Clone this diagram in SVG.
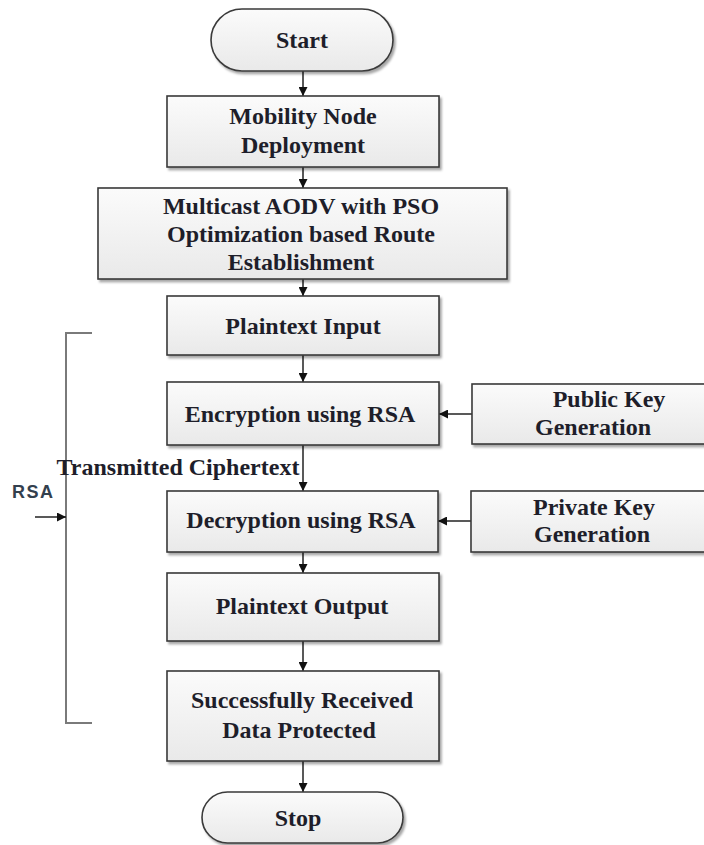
<svg xmlns="http://www.w3.org/2000/svg" width="704" height="845" viewBox="0 0 704 845">
  <defs>
    <linearGradient id="boxFill" x1="0" y1="0" x2="0" y2="1">
      <stop offset="0" stop-color="#fbfbfb"/>
      <stop offset="1" stop-color="#e9e9e9"/>
    </linearGradient>
    <filter id="shadow" x="-5%" y="-10%" width="115%" height="130%">
      <feDropShadow dx="2" dy="2.5" stdDeviation="1.2" flood-color="#000" flood-opacity="0.35"/>
    </filter>
    <marker id="arrow" viewBox="0 0 10 10" refX="10" refY="5" markerWidth="9" markerHeight="9" markerUnits="userSpaceOnUse" orient="auto">
      <path d="M0,0 L10,5 L0,10 Z" fill="#111"/>
    </marker>
  </defs>
  <style>
    .box { fill: url(#boxFill); stroke: #3a3a3a; stroke-width: 1.6; filter: url(#shadow); }
    .lbl { font-family: "Liberation Serif", "Times New Roman", serif; font-weight: bold; font-size: 24px; fill: #1e1e2a; text-anchor: middle; }
    .flow { stroke: #222; stroke-width: 1.5; fill: none; marker-end: url(#arrow); }
    .brace { stroke: #7a7a7a; stroke-width: 2; fill: none; }
    .side { font-family: "Liberation Sans", Arial, sans-serif; font-weight: bold; font-size: 18px; fill: #33404e; letter-spacing: 1.5px; }
  </style>

  <rect width="704" height="845" fill="#ffffff"/>

  <!-- connectors -->
  <g id="connectors">
    <line class="flow" x1="303" y1="71" x2="303" y2="96"/>
    <line class="flow" x1="303" y1="167" x2="303" y2="188"/>
    <line class="flow" x1="303" y1="279" x2="303" y2="296"/>
    <line class="flow" x1="303" y1="355" x2="303" y2="382"/>
    <line class="flow" x1="303" y1="445" x2="303" y2="491"/>
    <line class="flow" x1="303" y1="552" x2="303" y2="573"/>
    <line class="flow" x1="303" y1="641" x2="303" y2="671"/>
    <line class="flow" x1="303" y1="761" x2="303" y2="792"/>
    <line class="flow" x1="472" y1="414" x2="439" y2="414"/>
    <line class="flow" x1="471" y1="521" x2="438" y2="521"/>
    <!-- bracket around the RSA stage -->
    <path class="brace" d="M92,333 H66 V723 H92"/>
    <line class="flow" x1="35" y1="517" x2="66" y2="517"/>
    <text class="lbl" x="178" y="475">Transmitted Ciphertext</text>
    <text class="side" x="12" y="498">RSA</text>
  </g>

  <g id="start">
    <rect class="box" x="211" y="9" width="182" height="62" rx="31"/>
    <text class="lbl" x="302" y="48">Start</text>
  </g>

  <g id="mobility">
    <rect class="box" x="167" y="96" width="272" height="71"/>
    <text class="lbl" x="303" y="124">Mobility Node</text>
    <text class="lbl" x="303" y="153">Deployment</text>
  </g>

  <g id="routing">
    <rect class="box" x="98" y="188" width="409" height="91"/>
    <text class="lbl" x="301" y="214">Multicast AODV with PSO</text>
    <text class="lbl" x="301" y="242">Optimization based Route</text>
    <text class="lbl" x="301" y="270">Establishment</text>
  </g>

  <g id="plain-in">
    <rect class="box" x="167" y="296" width="272" height="59"/>
    <text class="lbl" x="303" y="334">Plaintext Input</text>
  </g>

  <g id="encrypt">
    <rect class="box" x="167" y="382" width="272" height="63"/>
    <text class="lbl" x="300" y="422">Encryption using RSA</text>
  </g>

  <g id="public-key">
    <rect class="box" x="472" y="384" width="240" height="60"/>
    <text class="lbl" x="609" y="407">Public Key</text>
    <text class="lbl" x="593" y="435">Generation</text>
  </g>

  <g id="decrypt">
    <rect class="box" x="167" y="491" width="271" height="61"/>
    <text class="lbl" x="301" y="528">Decryption using RSA</text>
  </g>

  <g id="private-key">
    <rect class="box" x="471" y="491" width="240" height="61"/>
    <text class="lbl" x="594" y="515">Private Key</text>
    <text class="lbl" x="592" y="542">Generation</text>
  </g>

  <g id="plain-out">
    <rect class="box" x="167" y="573" width="272" height="68"/>
    <text class="lbl" x="302" y="614">Plaintext Output</text>
  </g>

  <g id="received">
    <rect class="box" x="167" y="671" width="272" height="90"/>
    <text class="lbl" x="302" y="708">Successfully Received</text>
    <text class="lbl" x="299" y="738">Data Protected</text>
  </g>

  <g id="stop">
    <rect class="box" x="202" y="792" width="201" height="51" rx="25.5"/>
    <text class="lbl" x="298" y="826">Stop</text>
  </g>
</svg>
